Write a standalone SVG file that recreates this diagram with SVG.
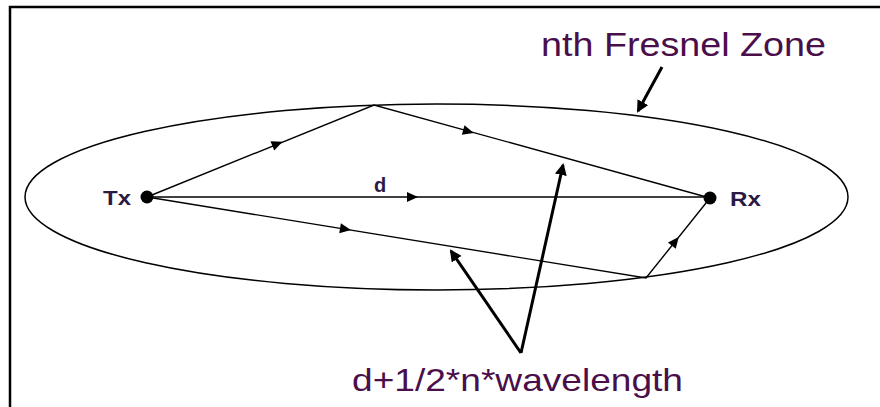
<svg xmlns="http://www.w3.org/2000/svg" width="880" height="407" viewBox="0 0 880 407">
<style>
.ray{stroke:#000;stroke-width:1.4;fill:none}
.ptr{stroke:#000;stroke-width:3;fill:none}
.lbl{font-family:"Liberation Sans",Arial,sans-serif;font-weight:bold;fill:#2a1a45}
.cap{font-family:"Liberation Sans",Arial,sans-serif;fill:#4a0f4a}
</style>
<defs>
<path id="ah" d="M6,0 L-5,-5 L-5,5 Z" fill="#000"/>
<marker id="big" viewBox="0 0 12 12" refX="10" refY="6" markerWidth="12" markerHeight="12" markerUnits="userSpaceOnUse" orient="auto">
<path d="M0,0 L12,6 L0,12 Z" fill="#000"/>
</marker>
</defs>
<rect width="880" height="407" fill="#fff"/>
<path d="M10,407 L10,7 L880,7" fill="none" stroke="#000" stroke-width="2.5"/>
<g id="zone">
<ellipse cx="436.5" cy="197" rx="411.5" ry="93" fill="none" stroke="#000" stroke-width="1.5"/>
</g>
<g id="connectors">
<path class="ray" d="M147,197 L374,105 L710,198"/>
<path class="ray" d="M147,197 L710,197"/>
<path class="ray" d="M147,197 L646,278 L710,198"/>
<use href="#ah" transform="translate(277,144) rotate(-22.06)"/>
<use href="#ah" transform="translate(468,131.3) rotate(15.63)"/>
<use href="#ah" transform="translate(412,197)"/>
<use href="#ah" transform="translate(345,229) rotate(9.22)"/>
<use href="#ah" transform="translate(675,241.7) rotate(-51.3)"/>
<path class="ptr" d="M521,353 L451,251" marker-end="url(#big)"/>
<path class="ptr" d="M521,353 L563,165" marker-end="url(#big)"/>
<path class="ptr" d="M662,67 L638,111" stroke-width="2.5" marker-end="url(#big)"/>
</g>
<g id="tx">
<circle cx="147" cy="197" r="6.5" fill="#000"/>
<text class="lbl" x="103" y="205" font-size="21" textLength="28" lengthAdjust="spacingAndGlyphs">Tx</text>
</g>
<g id="rx">
<circle cx="710" cy="198" r="6.5" fill="#000"/>
<text class="lbl" x="730" y="206" font-size="21" textLength="31" lengthAdjust="spacingAndGlyphs">Rx</text>
</g>
<g id="d-label">
<text class="lbl" x="374" y="192" font-size="20">d</text>
</g>
<g id="fresnel-label">
<text class="cap" x="541" y="56" font-size="34" textLength="285" lengthAdjust="spacingAndGlyphs">nth Fresnel Zone</text>
</g>
<g id="path-label">
<text class="cap" x="352" y="391" font-size="32" textLength="331" lengthAdjust="spacingAndGlyphs">d+1/2*n*wavelength</text>
</g>
</svg>
